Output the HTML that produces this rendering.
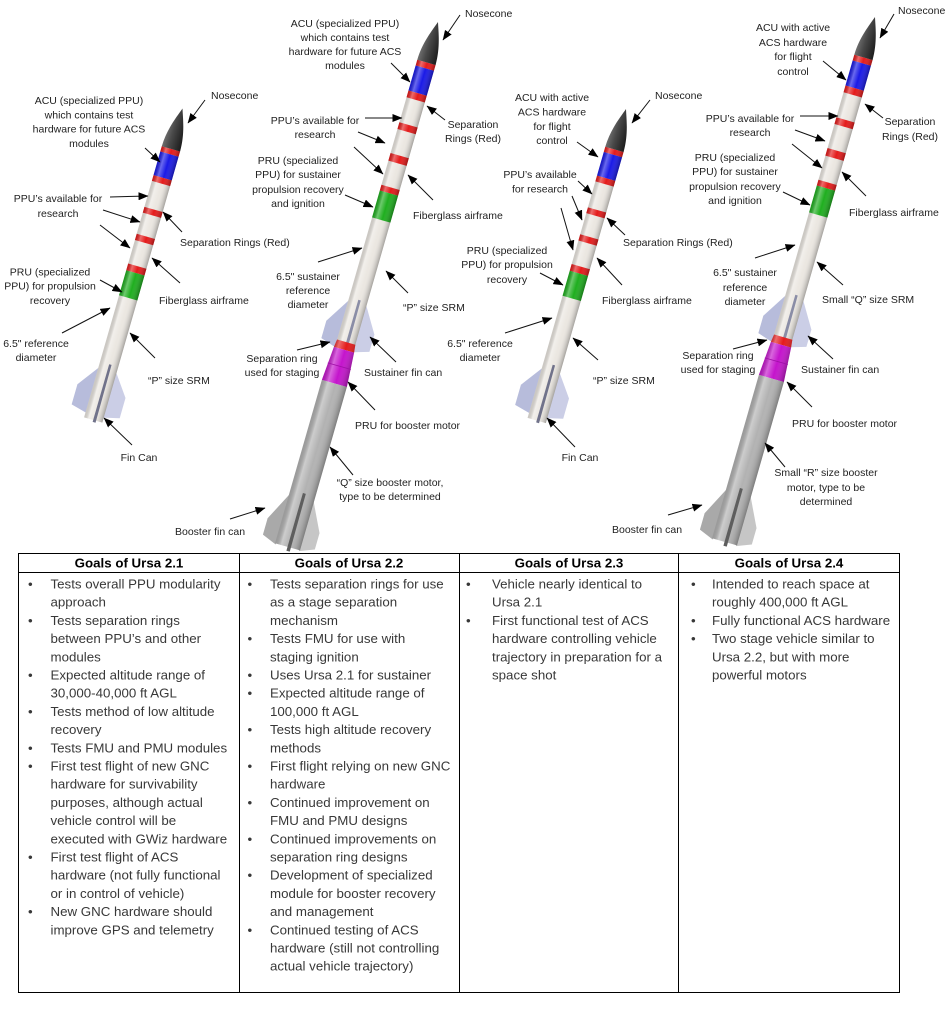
<!DOCTYPE html>
<html>
<head>
<meta charset="utf-8">
<style>
html,body{margin:0;padding:0;background:#fff;}
svg{display:block;}
</style>
</head>
<body>
<svg width="950" height="1032" viewBox="0 0 950 1032" xmlns="http://www.w3.org/2000/svg" font-family="'Liberation Sans', Arial, sans-serif">
<defs>
  <marker id="ah" markerWidth="10" markerHeight="8" refX="9.5" refY="4" orient="auto" markerUnits="userSpaceOnUse">
    <path d="M0,0 L10,4 L0,8 Z" fill="#000"/>
  </marker>
  <linearGradient id="shade" x1="0" y1="0" x2="1" y2="0">
    <stop offset="0" stop-color="#000" stop-opacity="0.13"/>
    <stop offset="0.25" stop-color="#fff" stop-opacity="0.35"/>
    <stop offset="0.55" stop-color="#fff" stop-opacity="0"/>
    <stop offset="1" stop-color="#000" stop-opacity="0.3"/>
  </linearGradient>
  <linearGradient id="nose" x1="0" y1="0" x2="1" y2="0">
    <stop offset="0" stop-color="#6e6e6e"/>
    <stop offset="0.35" stop-color="#4a4a4a"/>
    <stop offset="1" stop-color="#1c1c1c"/>
  </linearGradient>

  <g id="rA">
    <path d="M-9 272 L-25 294 L-25 315 L-9 319 Z" fill="#b7bcdb"/>
    <path d="M9 272 L25 294 L25 315 L9 319 Z" fill="#cbcee6"/>
    <rect x="-9.5" y="41" width="19" height="283" fill="#ebe7e1"/>
    <rect x="-9.5" y="42" width="19" height="5.5" fill="#e41b1b"/>
    <rect x="-9.5" y="47.5" width="19" height="24.5" fill="#1a1ae6"/>
    <rect x="-9.5" y="72" width="19" height="6" fill="#e41b1b"/>
    <rect x="-9.5" y="105" width="19" height="6" fill="#e41b1b"/>
    <rect x="-9.5" y="133" width="19" height="6.5" fill="#e41b1b"/>
    <rect x="-9.5" y="164" width="19" height="7" fill="#e41b1b"/>
    <rect x="-9.5" y="171" width="19" height="26" fill="#1fae1f"/>
    <rect x="-9.5" y="41" width="19" height="283" fill="url(#shade)"/>
    <path d="M0 0 C3 9 9.5 24 9.5 42 L-9.5 42 C-9.5 24 -3 9 0 0Z" fill="url(#nose)"/>
    <path d="M0 266 L2.5 266 L3 326 L0 326Z" fill="#70728a"/>
  </g>

  <g id="rB">
    <path d="M-9 292 L-25 318 L-25 336 L-9 341Z" fill="#b7bcdb"/>
    <path d="M9 292 L25 318 L25 336 L9 341Z" fill="#cbcee6"/>
    <path d="M-12 494 L-27 524 L-27 541 L-12 547Z" fill="#a9a9a9"/>
    <path d="M12 494 L27 524 L27 541 L12 547Z" fill="#c6c6c6"/>
    <rect x="-9.5" y="41" width="19" height="294" fill="#ebe7e1"/>
    <rect x="-9.5" y="42" width="19" height="6" fill="#e41b1b"/>
    <rect x="-9.5" y="48" width="19" height="26" fill="#1a1ae6"/>
    <rect x="-9.5" y="74" width="19" height="7" fill="#e41b1b"/>
    <rect x="-9.5" y="107" width="19" height="7" fill="#e41b1b"/>
    <rect x="-9.5" y="139" width="19" height="8" fill="#e41b1b"/>
    <rect x="-9.5" y="172" width="19" height="6" fill="#e41b1b"/>
    <rect x="-9.5" y="178" width="19" height="28" fill="#1fae1f"/>
    <rect x="-9.5" y="41" width="19" height="294" fill="url(#shade)"/>
    <path d="M0 0 C3 9 9.5 24 9.5 42 L-9.5 42 C-9.5 24 -3 9 0 0Z" fill="url(#nose)"/>
    <path d="M0 289 L2.5 289 L3 338 L0 338Z" fill="#8a8da6"/>
    <path d="M-9.5 333 L9.5 333 L10.5 341 L-10.5 341Z" fill="#e41b1b"/>
    <path d="M-10.5 341 L10.5 341 L13 376 L-13 376Z" fill="#c414cc"/>
    <rect x="-13" y="376" width="26" height="170" fill="#b2b2b2"/>
    <path d="M-9.5 333 L9.5 333 L10.5 341 L13 376 L13 546 L-13 546 L-13 376 L-10.5 341Z" fill="url(#shade)"/>
    <path d="M-12 358 L12 358" stroke="#a010a8" stroke-width="0.8"/>
    <path d="M0 490 L3 490 L3.5 550 L0 550Z" fill="#5e5e5e"/>
  </g>
</defs>

<!-- Rockets -->
<use href="#rA" transform="translate(182.5,108.5) rotate(16)"/>
<use href="#rB" transform="translate(438,22) rotate(16)"/>
<use href="#rA" transform="translate(626,109) rotate(16)"/>
<use href="#rB" transform="translate(875,17) rotate(16)"/>

<!-- Arrows -->
<g stroke="#111" stroke-width="1" fill="none" marker-end="url(#ah)">
  <!-- R1 -->
  <line x1="205" y1="100" x2="188" y2="123"/>
  <line x1="145" y1="148" x2="160" y2="162"/>
  <line x1="110" y1="197" x2="148" y2="196"/>
  <line x1="103" y1="210" x2="140" y2="222"/>
  <line x1="100" y1="225" x2="130" y2="248"/>
  <line x1="182" y1="232" x2="163" y2="212"/>
  <line x1="100" y1="280" x2="122" y2="292"/>
  <line x1="180" y1="283" x2="152" y2="258"/>
  <line x1="62" y1="333" x2="110" y2="308"/>
  <line x1="155" y1="358" x2="130" y2="333"/>
  <line x1="132" y1="445" x2="104" y2="418"/>
  <!-- R2 -->
  <line x1="460" y1="15" x2="443" y2="40"/>
  <line x1="391" y1="63" x2="410" y2="82"/>
  <line x1="365" y1="118" x2="402" y2="118"/>
  <line x1="358" y1="132" x2="385" y2="143"/>
  <line x1="354" y1="147" x2="383" y2="174"/>
  <line x1="445" y1="120" x2="427" y2="106"/>
  <line x1="345" y1="195" x2="373" y2="207"/>
  <line x1="433" y1="200" x2="408" y2="175"/>
  <line x1="318" y1="262" x2="362" y2="248"/>
  <line x1="408" y1="293" x2="386" y2="271"/>
  <line x1="297" y1="350" x2="330" y2="342"/>
  <line x1="396" y1="362" x2="370" y2="337"/>
  <line x1="375" y1="410" x2="348" y2="382"/>
  <line x1="353" y1="475" x2="330" y2="447"/>
  <line x1="230" y1="519" x2="265" y2="508"/>
  <!-- R3 -->
  <line x1="650" y1="100" x2="632" y2="123"/>
  <line x1="577" y1="142" x2="598" y2="157"/>
  <line x1="578" y1="181" x2="592" y2="194"/>
  <line x1="572" y1="196" x2="582" y2="220"/>
  <line x1="561" y1="208" x2="573" y2="250"/>
  <line x1="625" y1="235" x2="607" y2="218"/>
  <line x1="540" y1="273" x2="563" y2="285"/>
  <line x1="622" y1="285" x2="597" y2="258"/>
  <line x1="505" y1="333" x2="552" y2="318"/>
  <line x1="598" y1="360" x2="573" y2="338"/>
  <line x1="575" y1="447" x2="547" y2="418"/>
  <!-- R4 -->
  <line x1="894" y1="14" x2="880" y2="38"/>
  <line x1="823" y1="61" x2="846" y2="80"/>
  <line x1="800" y1="116" x2="838" y2="116"/>
  <line x1="795" y1="130" x2="825" y2="141"/>
  <line x1="792" y1="144" x2="822" y2="168"/>
  <line x1="883" y1="118" x2="865" y2="104"/>
  <line x1="783" y1="192" x2="810" y2="205"/>
  <line x1="866" y1="196" x2="842" y2="172"/>
  <line x1="755" y1="258" x2="795" y2="245"/>
  <line x1="843" y1="285" x2="817" y2="262"/>
  <line x1="733" y1="349" x2="767" y2="340"/>
  <line x1="833" y1="359" x2="808" y2="336"/>
  <line x1="812" y1="407" x2="787" y2="382"/>
  <line x1="785" y1="467" x2="765" y2="443"/>
  <line x1="668" y1="515" x2="702" y2="505"/>
</g>

<!-- Labels -->
<g font-size="10.5" fill="#222">
  <!-- R1 -->
  <text x="211" y="99">Nosecone</text>
  <g text-anchor="middle">
    <text x="89" y="104">ACU (specialized PPU)</text>
    <text x="89" y="118.5">which contains test</text>
    <text x="89" y="132.5">hardware for future ACS</text>
    <text x="89" y="147">modules</text>
    <text x="58" y="202">PPU’s available for</text>
    <text x="58" y="217">research</text>
    <text x="50" y="275.5">PRU (specialized</text>
    <text x="50" y="289.5">PPU) for propulsion</text>
    <text x="50" y="304">recovery</text>
    <text x="36" y="347">6.5" reference</text>
    <text x="36" y="361">diameter</text>
    <text x="139" y="461">Fin Can</text>
  </g>
  <text x="180" y="246">Separation Rings (Red)</text>
  <text x="159" y="304">Fiberglass airframe</text>
  <text x="148" y="384">“P” size SRM</text>

  <!-- R2 -->
  <text x="465" y="17">Nosecone</text>
  <g text-anchor="middle">
    <text x="345" y="27">ACU (specialized PPU)</text>
    <text x="345" y="41">which contains test</text>
    <text x="345" y="55">hardware for future ACS</text>
    <text x="345" y="69">modules</text>
    <text x="315" y="124">PPU’s available for</text>
    <text x="315" y="138">research</text>
    <text x="473" y="128">Separation</text>
    <text x="473" y="142">Rings (Red)</text>
    <text x="298" y="164">PRU (specialized</text>
    <text x="298" y="178">PPU) for sustainer</text>
    <text x="298" y="193">propulsion recovery</text>
    <text x="298" y="207">and ignition</text>
    <text x="308" y="280">6.5" sustainer</text>
    <text x="308" y="294">reference</text>
    <text x="308" y="308">diameter</text>
    <text x="282" y="362">Separation ring</text>
    <text x="282" y="376">used for staging</text>
    <text x="390" y="486">“Q” size booster motor,</text>
    <text x="390" y="500">type to be determined</text>
  </g>
  <text x="413" y="219">Fiberglass airframe</text>
  <text x="403" y="311">“P” size SRM</text>
  <text x="364" y="376">Sustainer fin can</text>
  <text x="355" y="429">PRU for booster motor</text>
  <text x="175" y="535">Booster fin can</text>

  <!-- R3 -->
  <text x="655" y="99">Nosecone</text>
  <g text-anchor="middle">
    <text x="552" y="101">ACU with active</text>
    <text x="552" y="115.5">ACS hardware</text>
    <text x="552" y="130">for flight</text>
    <text x="552" y="144">control</text>
    <text x="540" y="178">PPU’s available</text>
    <text x="540" y="192.5">for research</text>
    <text x="507" y="254">PRU (specialized</text>
    <text x="507" y="268">PPU) for propulsion</text>
    <text x="507" y="283">recovery</text>
    <text x="480" y="347">6.5" reference</text>
    <text x="480" y="361">diameter</text>
    <text x="580" y="461">Fin Can</text>
  </g>
  <text x="623" y="246">Separation Rings (Red)</text>
  <text x="602" y="304">Fiberglass airframe</text>
  <text x="593" y="384">“P” size SRM</text>

  <!-- R4 -->
  <text x="898" y="14">Nosecone</text>
  <g text-anchor="middle">
    <text x="793" y="31">ACU with active</text>
    <text x="793" y="46">ACS hardware</text>
    <text x="793" y="60">for flight</text>
    <text x="793" y="75">control</text>
    <text x="750" y="122">PPU’s available for</text>
    <text x="750" y="136">research</text>
    <text x="910" y="125">Separation</text>
    <text x="910" y="140">Rings (Red)</text>
    <text x="735" y="161">PRU (specialized</text>
    <text x="735" y="175">PPU) for sustainer</text>
    <text x="735" y="190">propulsion recovery</text>
    <text x="735" y="204">and ignition</text>
    <text x="745" y="276">6.5" sustainer</text>
    <text x="745" y="291">reference</text>
    <text x="745" y="305">diameter</text>
    <text x="718" y="359">Separation ring</text>
    <text x="718" y="373">used for staging</text>
    <text x="826" y="476">Small “R” size booster</text>
    <text x="826" y="491">motor, type to be</text>
    <text x="826" y="505">determined</text>
  </g>
  <text x="849" y="216">Fiberglass airframe</text>
  <text x="822" y="303">Small “Q” size SRM</text>
  <text x="801" y="373">Sustainer fin can</text>
  <text x="792" y="427">PRU for booster motor</text>
  <text x="612" y="533">Booster fin can</text>
</g>

<!-- Table -->
<g stroke="#000" stroke-width="1" fill="none">
  <rect x="18.5" y="553.5" width="881" height="439"/>
  <line x1="18.5" y1="572.5" x2="899.5" y2="572.5"/>
  <line x1="239.5" y1="553.5" x2="239.5" y2="992.5"/>
  <line x1="459.5" y1="553.5" x2="459.5" y2="992.5"/>
  <line x1="678.5" y1="553.5" x2="678.5" y2="992.5"/>
</g>
<g font-size="13.3" font-weight="bold" fill="#000" text-anchor="middle">
  <text x="129" y="567.5">Goals of Ursa 2.1</text>
  <text x="349" y="567.5">Goals of Ursa 2.2</text>
  <text x="569" y="567.5">Goals of Ursa 2.3</text>
  <text x="789" y="567.5">Goals of Ursa 2.4</text>
</g>
<g font-size="13.3" fill="#383838">
  <!-- Column 1 -->
  <text x="28" y="588.5">•</text><text x="50.5" y="588.5">Tests overall PPU modularity</text>
  <text x="50.5" y="606.7">approach</text>
  <text x="28" y="624.9">•</text><text x="50.5" y="624.9">Tests separation rings</text>
  <text x="50.5" y="643.1">between PPU’s and other</text>
  <text x="50.5" y="661.3">modules</text>
  <text x="28" y="679.5">•</text><text x="50.5" y="679.5">Expected altitude range of</text>
  <text x="50.5" y="697.7">30,000-40,000 ft AGL</text>
  <text x="28" y="715.9">•</text><text x="50.5" y="715.9">Tests method of low altitude</text>
  <text x="50.5" y="734.1">recovery</text>
  <text x="28" y="752.3">•</text><text x="50.5" y="752.3">Tests FMU and PMU modules</text>
  <text x="28" y="770.5">•</text><text x="50.5" y="770.5">First test flight of new GNC</text>
  <text x="50.5" y="788.7">hardware for survivability</text>
  <text x="50.5" y="806.9">purposes, although actual</text>
  <text x="50.5" y="825.1">vehicle control will be</text>
  <text x="50.5" y="843.3">executed with GWiz hardware</text>
  <text x="28" y="861.5">•</text><text x="50.5" y="861.5">First test flight of ACS</text>
  <text x="50.5" y="879.7">hardware (not fully functional</text>
  <text x="50.5" y="897.9">or in control of vehicle)</text>
  <text x="28" y="916.1">•</text><text x="50.5" y="916.1">New GNC hardware should</text>
  <text x="50.5" y="934.3">improve GPS and telemetry</text>

  <!-- Column 2 -->
  <text x="247.5" y="588.5">•</text><text x="270" y="588.5">Tests separation rings for use</text>
  <text x="270" y="606.7">as a stage separation</text>
  <text x="270" y="624.9">mechanism</text>
  <text x="247.5" y="643.1">•</text><text x="270" y="643.1">Tests FMU for use with</text>
  <text x="270" y="661.3">staging ignition</text>
  <text x="247.5" y="679.5">•</text><text x="270" y="679.5">Uses Ursa 2.1 for sustainer</text>
  <text x="247.5" y="697.7">•</text><text x="270" y="697.7">Expected altitude range of</text>
  <text x="270" y="715.9">100,000 ft AGL</text>
  <text x="247.5" y="734.1">•</text><text x="270" y="734.1">Tests high altitude recovery</text>
  <text x="270" y="752.3">methods</text>
  <text x="247.5" y="770.5">•</text><text x="270" y="770.5">First flight relying on new GNC</text>
  <text x="270" y="788.7">hardware</text>
  <text x="247.5" y="806.9">•</text><text x="270" y="806.9">Continued improvement on</text>
  <text x="270" y="825.1">FMU and PMU designs</text>
  <text x="247.5" y="843.3">•</text><text x="270" y="843.3">Continued improvements on</text>
  <text x="270" y="861.5">separation ring designs</text>
  <text x="247.5" y="879.7">•</text><text x="270" y="879.7">Development of specialized</text>
  <text x="270" y="897.9">module for booster recovery</text>
  <text x="270" y="916.1">and management</text>
  <text x="247.5" y="934.3">•</text><text x="270" y="934.3">Continued testing of ACS</text>
  <text x="270" y="952.5">hardware (still not controlling</text>
  <text x="270" y="970.7">actual vehicle trajectory)</text>

  <!-- Column 3 -->
  <text x="466" y="588.5">•</text><text x="492" y="588.5">Vehicle nearly identical to</text>
  <text x="492" y="606.7">Ursa 2.1</text>
  <text x="466" y="624.9">•</text><text x="492" y="624.9">First functional test of ACS</text>
  <text x="492" y="643.1">hardware controlling vehicle</text>
  <text x="492" y="661.3">trajectory in preparation for a</text>
  <text x="492" y="679.5">space shot</text>

  <!-- Column 4 -->
  <text x="691" y="588.5">•</text><text x="712" y="588.5">Intended to reach space at</text>
  <text x="712" y="606.7">roughly 400,000 ft AGL</text>
  <text x="691" y="624.9">•</text><text x="712" y="624.9">Fully functional ACS hardware</text>
  <text x="691" y="643.1">•</text><text x="712" y="643.1">Two stage vehicle similar to</text>
  <text x="712" y="661.3">Ursa 2.2, but with more</text>
  <text x="712" y="679.5">powerful motors</text>
</g>
</svg>
</body>
</html>
